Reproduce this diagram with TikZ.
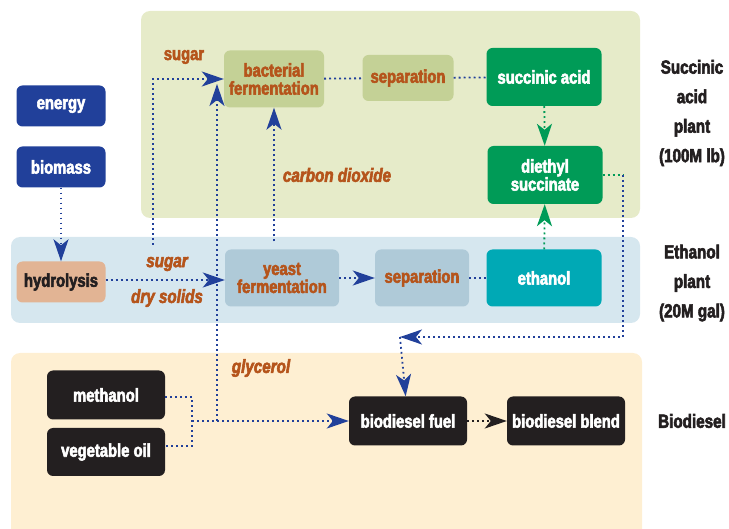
\documentclass[tikz,border=0pt]{standalone}
\usepackage{fontspec}
\setmainfont{Liberation Sans}[FakeStretch=0.8, BoldFeatures={FakeBold=3}, BoldItalicFeatures={FakeBold=3}]
\usetikzlibrary{arrows.meta}
\definecolor{dblue}{HTML}{21409A}
\definecolor{sgreen}{HTML}{009B57}
\definecolor{eteal}{HTML}{00A9B5}
\definecolor{olive}{HTML}{C4D196}
\definecolor{lblue}{HTML}{AFCAD8}
\definecolor{tan}{HTML}{E2B494}
\definecolor{ink}{HTML}{231F20}
\definecolor{rust}{HTML}{B5541B}
\definecolor{succpanel}{HTML}{E6EBC9}
\definecolor{ethpanel}{HTML}{D6E7EF}
\definecolor{biopanel}{HTML}{FEEFD2}

\begin{document}
\begin{tikzpicture}[x=1pt,y=-1pt,font=\bfseries\fontsize{18.5}{18}\selectfont]
    \tikzstyle{box} = [rounded corners=6pt, align=center, inner sep=2pt]
    \tikzstyle{blue} = [box, fill=dblue, text=white, minimum width=89pt, minimum height=41pt]
    \tikzstyle{bact} = [box, fill=olive, text=rust]
    \tikzstyle{yst} = [box, fill=lblue, text=rust]
    \tikzstyle{prod} = [box, text=white, minimum width=115pt, minimum height=58pt]
    \tikzstyle{bio} = [box, fill=ink, text=white, minimum width=118pt, minimum height=49pt]
    \tikzstyle{tag} = [text=rust, font=\bfseries\itshape\fontsize{19}{20}\selectfont]
    \tikzstyle{plant} = [align=center, text=ink, font=\bfseries\fontsize{19}{29.5}\selectfont]
    \tikzstyle{flow} = [draw=dblue, line width=1.8pt, dash pattern=on 1.8pt off 3.2pt]
    \tikzstyle{gflow} = [flow, draw=sgreen]
    \tikzstyle{kflow} = [flow, draw=ink]
    \tikzstyle{arr} = [-{Stealth[length=22pt,width=15pt,inset=6pt]}]
        \clip (0,0) rectangle (729,529);
        % panels
        \fill[succpanel, rounded corners=9pt] (141,11) rectangle (640,218);
        \fill[ethpanel, rounded corners=9pt] (11,237) rectangle (640,323);
        \fill[biopanel, rounded corners=9pt] (11,353) rectangle (642,545);
        % inputs
        \node[blue] (energy) at (61,106) {energy};
        \node[blue] (biomass) at (61,167) {biomass};
        \node[box, fill=tan, text=ink, minimum width=89pt, minimum height=41pt] (hydro) at (61,282) {hydrolysis};
        % succinic acid plant
        \node[bact, minimum width=100pt, minimum height=57pt] (bferm) at (274,79) {bacterial\\fermentation};
        \node[bact, minimum width=91pt, minimum height=46pt] (sepa) at (408,78) {separation};
        \node[prod, fill=sgreen] (succ) at (544,77) {succinic acid};
        \node[prod, fill=sgreen] (diethyl) at (545,175) {diethyl\\succinate};
        % ethanol plant
        \node[yst, minimum width=114pt, minimum height=57pt] (yferm) at (282,278) {yeast\\fermentation};
        \node[yst, minimum width=94pt, minimum height=57pt] (sepb) at (422,278) {separation};
        \node[prod, fill=eteal, minimum height=57pt] (ethanol) at (544,278) {ethanol};
        % biodiesel
        \node[bio] (methanol) at (106,395) {methanol};
        \node[bio, minimum height=48pt] (vegoil) at (106,452) {vegetable oil};
        \node[bio] (biofuel) at (408,421) {biodiesel fuel};
        \node[bio] (blend) at (566,421) {biodiesel blend};
        % free ends
        \coordinate (sug) at (153,245);
        \coordinate (join) at (192,421);
        \coordinate (gly) at (217,421);
        \coordinate (glyend) at (217,84);
        \coordinate (drop) at (623,175);
        \coordinate (turn) at (400,337);
        %%% connectors
        \draw[flow,arr] (biomass) -- (hydro);
        \draw[flow,arr] ([yshift=2pt]hydro.east) -- ([yshift=2pt]hydro.east -| yferm.west);
        \draw[flow,arr] (sug) |- (bferm.west);
        \draw[flow,arr] ([yshift=8pt]yferm.north -| bferm.south) -- (bferm.south);
        \draw[flow,arr] (gly) -- (glyend);
        \draw[flow] (bferm) -- (sepa);
        \draw[flow] (sepa) -- (succ);
        \draw[gflow,arr] (succ) -- (diethyl);
        \draw[gflow,arr] (ethanol) -- (diethyl);
        \draw[flow,arr] (yferm) -- (sepb);
        \draw[flow] (sepb) -- (ethanol);
        \draw[gflow] (diethyl.east) -- (drop);
        \draw[flow,arr] (drop) |- (turn);
        \draw[flow,arr] (turn) -- (biofuel);
        \draw[flow] ([yshift=-2pt]methanol.east) -| (join) |- ([yshift=6pt]vegoil.east);
        \draw[flow,arr] (join) -- (biofuel);
        \draw[kflow,arr] (biofuel) -- (blend);
        %%% labels
        \node[text=rust] (sugtop) at (184,57) {sugar};
        \node[tag] (co2) at (337,175) {carbon dioxide};
        \node[tag] (sugmid) at (167,264) {sugar};
        \node[tag] (solids) at (167,298) {dry solids};
        \node[tag] (glyc) at (261,368) {glycerol};
        % plants
        \node[plant] (succlab) at (692,113) {Succinic\\acid\\plant\\(100M lb)};
        \node[plant] (ethlab) at (692,283) {Ethanol\\plant\\(20M gal)};
        \node[plant] (biolab) at (692,421) {Biodiesel};
    \end{tikzpicture}
\end{document}
